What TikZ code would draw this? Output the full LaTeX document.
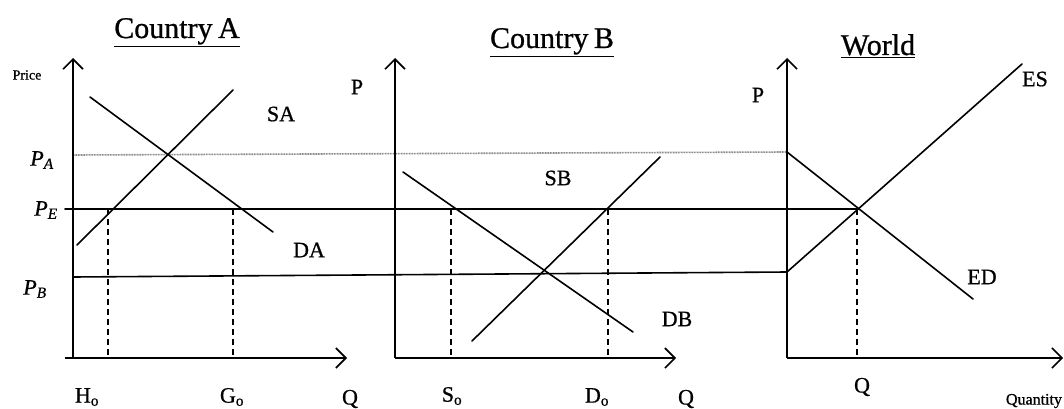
\documentclass[tikz,border=0pt]{standalone}
\usepackage{fontspec}
\setmainfont{Liberation Serif}
\newfontfamily\heavy[FakeBold=0.8]{Liberation Serif}
\usetikzlibrary{arrows.meta}
\tikzset{
  ln/.style={line width=1.6pt, line cap=round},
  axis/.style={line width=1.6pt, -{Straight Barb[length=10pt,width=20pt,line width=1.6pt]}},
  dsh/.style={line width=1.6pt, dash pattern=on 6pt off 4pt},
  dot/.style={line width=1.6pt, draw=black!45, dash pattern=on 1pt off 0.6pt},
  ttl/.style={font=\heavy\fontsize{30}{32}\selectfont, anchor=base},
  lbl/.style={font=\heavy\fontsize{22}{24}\selectfont, inner sep=0pt},
  plb/.style={font=\heavy\fontsize{22}{24}\selectfont\itshape, inner sep=0pt},
  small/.style={font=\heavy\fontsize{14}{15}\selectfont, inner sep=0pt}
}
\begin{document}
\begin{tikzpicture}[x=1pt,y=-1pt]
\useasboundingbox (0,0) rectangle (1064,409);
% ---------- coordinates ----------
% Country A
\coordinate (oA) at (73,358);
\coordinate (yA) at (73,58);
\coordinate (xA) at (347,358);
\coordinate (xA0) at (65,358);
\coordinate (saL) at (77,245);
\coordinate (saH) at (233,90);
\coordinate (daH) at (90,97);
\coordinate (daL) at (273,232);
\coordinate (hT) at (108,209);
\coordinate (hB) at (108,358);
\coordinate (gT) at (233,209);
\coordinate (gB) at (233,358);
% Country B
\coordinate (oB) at (395,358);
\coordinate (yB) at (395,58);
\coordinate (xB) at (676,358);
\coordinate (dbH) at (403,172);
\coordinate (dbL) at (633,332);
\coordinate (sbL) at (472,341);
\coordinate (sbH) at (660,157);
\coordinate (sT) at (451,209);
\coordinate (sBt) at (451,358);
\coordinate (dT) at (608,209);
\coordinate (dBt) at (608,358);
% World
\coordinate (oW) at (787,358);
\coordinate (yW) at (787,58);
\coordinate (xW) at (1063,358);
\coordinate (edH) at (787,152);
\coordinate (edL) at (973,299);
\coordinate (esL) at (787,272);
\coordinate (esH) at (1022,64);
\coordinate (eq) at (857,209);
\coordinate (qB) at (857,358);
% price lines
\coordinate (paL) at (73,155);
\coordinate (peL) at (65,209);
\coordinate (pbL) at (73,277);
% ---------- price lines ----------
\draw[dot] (paL) -- (edH);
\draw[ln] (peL) -- (eq);
\draw[ln] (pbL) -- (esL);
% ---------- axes ----------
\draw[axis] (oA) -- (yA);
\draw[axis] (xA0) -- (xA);
\draw[axis] (oB) -- (yB);
\draw[axis] (oB) -- (xB);
\draw[axis] (oW) -- (yW);
\draw[axis] (oW) -- (xW);
% ---------- curves ----------
\draw[ln] (saL) -- (saH);
\draw[ln] (daH) -- (daL);
\draw[ln] (dbH) -- (dbL);
\draw[ln] (sbL) -- (sbH);
\draw[ln] (edH) -- (edL);
\draw[ln] (esL) -- (esH);
% ---------- dashed ----------
\draw[dsh] (hT) -- (hB);
\draw[dsh] (gT) -- (gB);
\draw[dsh] (sT) -- (sBt);
\draw[dsh] (dT) -- (dBt);
\draw[dsh] (eq) -- (qB);
% ---------- titles ----------
\node[ttl] (tA) at (177,38) {\underline{Country\kern-2pt\ A}};
\node[ttl] (tB) at (552,48) {\underline{Country\kern-2pt\ B}};
\node[ttl] (tW) at (878,55) {\underline{World}};
% ---------- labels ----------
\node[small] (price) at (27,75) {Price};
\node[lbl] (sa) at (281,114) {SA};
\node[lbl] (da) at (309,250) {DA};
\node[lbl] (sb) at (558,178) {SB};
\node[lbl] (db) at (677,319) {DB};
\node[lbl] (es) at (1035,79) {ES};
\node[lbl] (ed) at (982,277) {ED};
\node[lbl] (pB) at (357,87) {P};
\node[lbl] (pW) at (758,95) {P};
\node[plb] (pa) at (42,160) {P\textsubscript{A}};
\node[plb] (pe) at (46,210) {P\textsubscript{E}};
\node[plb] (pb) at (35,289) {P\textsubscript{B}};
\node[lbl] (ho) at (87,397) {H\textsubscript{o}};
\node[lbl] (go) at (232,397) {G\textsubscript{o}};
\node[lbl] (qA) at (350,399) {Q};
\node[lbl] (so) at (452,396) {S\textsubscript{o}};
\node[lbl] (do) at (597,397) {D\textsubscript{o}};
\node[lbl] (qBl) at (686,399) {Q};
\node[lbl] (qW) at (862,387) {Q};
\node[small, font=\heavy\fontsize{16}{17}\selectfont] (quant) at (1034,401) {Quantity};
\end{tikzpicture}
\end{document}
